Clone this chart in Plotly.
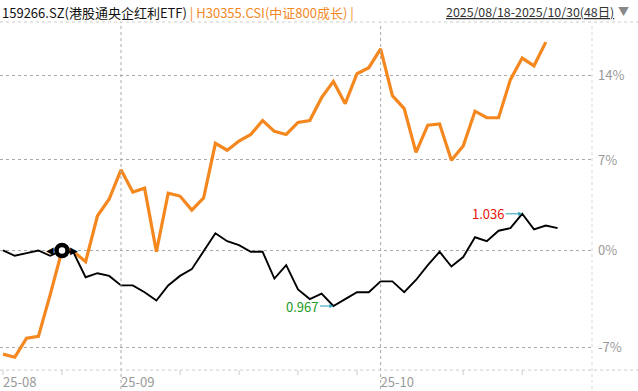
import math
import plotly.graph_objects as go

# ---------------- data ----------------
dates = [
    "2025-08-18", "2025-08-19", "2025-08-20", "2025-08-21", "2025-08-22",
    "2025-08-25", "2025-08-26", "2025-08-27", "2025-08-28", "2025-08-29",
    "2025-09-01", "2025-09-02", "2025-09-03", "2025-09-04", "2025-09-05",
    "2025-09-08", "2025-09-09", "2025-09-10", "2025-09-11", "2025-09-12",
    "2025-09-15", "2025-09-16", "2025-09-17", "2025-09-18", "2025-09-19",
    "2025-09-22", "2025-09-23", "2025-09-24", "2025-09-25", "2025-09-26",
    "2025-09-29", "2025-09-30",
    "2025-10-09", "2025-10-10", "2025-10-13", "2025-10-14", "2025-10-15",
    "2025-10-16", "2025-10-17", "2025-10-20", "2025-10-21", "2025-10-22",
    "2025-10-23", "2025-10-24", "2025-10-27", "2025-10-28", "2025-10-29",
    "2025-10-30",
]

# 159266.SZ closing prices
etf_price = [
    1.008, 1.004, 1.006, 1.008, 1.004, 1.008, 1.006, 0.988, 0.991, 0.989,
    0.982, 0.982, 0.977, 0.971, 0.982, 0.989, 0.994, 1.007, 1.021, 1.015,
    1.012, 1.007, 1.007, 0.987, 0.997, 0.979, 0.972, 0.976, 0.967, 0.972,
    0.977, 0.977, 0.985, 0.985, 0.977, 0.986, 0.997, 1.007, 0.996, 1.003,
    1.018, 1.015, 1.023, 1.025, 1.036, 1.024, 1.027, 1.025,
]

# H30355.CSI change (%) relative to the base date
h30355_pct = [
    -7.46, -7.67, -6.35, -6.22, -3.25, 0.00, -0.10, -0.84, 2.61, 3.92,
    6.21, 4.46, 4.77, -0.10, 4.38, 4.15, 3.07, 4.00, 8.34, 7.78,
    8.52, 9.06, 10.20, 9.31, 9.06, 10.04, 10.20, 12.10, 13.47, 11.60,
    14.12, 14.64, 16.27, 12.27, 11.19, 7.61, 9.82, 9.92, 6.98, 8.12,
    10.97, 10.43, 10.43, 13.62, 15.47, 14.80, 16.85,
]

base_date = "2025-08-25"
month_dates = ["2025-08-18", "2025-09-01", "2025-10-09"]
month_labels = ["25-08", "25-09", "25-10"]
week_dates = ["2025-08-18", "2025-08-25", "2025-09-08", "2025-09-15", "2025-09-22",
              "2025-09-29", "2025-10-20", "2025-10-27"]
y_tick_pct = [14, 7, 0, -7]
y_tick_text = ["14%", "7%", "0%", "-7%"]

etf_name = "159266.SZ(港股通央企红利ETF)"
idx_name = "H30355.CSI(中证800成长)"
range_text = "2025/08/18-2025/10/30(48日)"

# ---------------- derived ----------------
n = len(dates)
xi = list(range(n))
b = dates.index(base_date)
etf_ratio = [p / etf_price[b] for p in etf_price]
idx_ratio = [1 + v / 100 for v in h30355_pct]
xi_idx = list(range(len(h30355_pct)))

imax = max(range(n), key=lambda i: etf_price[i])
imin = min(range(n), key=lambda i: etf_price[i])

ORANGE = "#F5871F"
FONT = "Noto Sans CJK SC"

fig = go.Figure()
fig.add_trace(go.Scatter(x=xi_idx, y=idx_ratio, mode="lines",
                         line=dict(color=ORANGE, width=3.2), hoverinfo="skip"))
fig.add_trace(go.Scatter(x=xi, y=etf_ratio, mode="lines",
                         line=dict(color="#000000", width=1.9), hoverinfo="skip"))
fig.add_trace(go.Scatter(x=[b], y=[etf_ratio[b]], mode="markers",
                         marker=dict(symbol="circle", size=11, color="white",
                                     line=dict(color="black", width=4.5)),
                         hoverinfo="skip"))

# paper geometry: plot area spans 22..391 px vertically (369 px)
H = 369.0
def py(px):
    return (391 - px) / H

def ly(v):  # annotation position on the log axis
    return math.log10(v)

shapes = []
for d in month_dates[1:]:
    shapes.append(dict(type="line", xref="x", yref="paper", x0=dates.index(d), x1=dates.index(d),
                       y0=0, y1=1.0, line=dict(color="#aaaaaa", width=1, dash="dot")))
for d in week_dates:
    shapes.append(dict(type="line", xref="x", yref="paper", x0=dates.index(d), x1=dates.index(d),
                       y0=py(377), y1=py(372), line=dict(color="#cccccc", width=1)))
shapes.append(dict(type="line", xref="paper", yref="paper", x0=1, x1=1, y0=0, y1=1.0,
                   line=dict(color="#d5d5d5", width=1, dash="dot")))
shapes.append(dict(type="line", xref="paper", yref="paper", x0=0, x1=638 / 592, y0=1, y1=1,
                   line=dict(color="#cccccc", width=1, dash="dot")))
shapes.append(dict(type="line", xref="paper", yref="paper", x0=0, x1=638 / 592, y0=py(372), y1=py(372),
                   line=dict(color="#cccccc", width=1, dash="dot")))

annotations = [
    dict(xref="paper", yref="paper", x=0, y=py(12), xanchor="left", yanchor="middle",
         showarrow=False, font=dict(family=FONT, size=13, color="#111111"),
         text=etf_name + " <span style='color:%s'>| %s |</span>" % (ORANGE, idx_name)),
    dict(xref="paper", yref="paper", x=444 / 592, y=py(12), xanchor="left", yanchor="middle",
         showarrow=False, font=dict(family=FONT, size=12.4, color="#333333"),
         text="<span style='text-decoration:underline'>%s</span>" % range_text),
    dict(xref="paper", yref="paper", x=624 / 592, y=py(11), xanchor="center", yanchor="middle",
         showarrow=False, font=dict(family=FONT, size=11, color="#888888"), text="▼"),
    dict(x=imax, y=ly(etf_ratio[imax]), ax=-34, ay=0, showarrow=True, arrowhead=2,
         arrowsize=0.8, arrowwidth=1, arrowcolor="#2a9bb5", text="%.3f" % etf_price[imax],
         font=dict(family=FONT, size=13, color="#e8150c")),
    dict(x=imin, y=ly(etf_ratio[imin]), ax=-31, ay=0, showarrow=True, arrowhead=2,
         arrowsize=0.8, arrowwidth=1, arrowcolor="#2a9bb5", text="%.3f" % etf_price[imin],
         font=dict(family=FONT, size=13, color="#1e9a1e")),
    dict(x=b, y=ly(etf_ratio[b]), xshift=-12, showarrow=False, text="◀",
         font=dict(family="DejaVu Sans", size=10, color="black")),
    dict(x=b, y=ly(etf_ratio[b]), xshift=12, showarrow=False, text="▶",
         font=dict(family="DejaVu Sans", size=10, color="black")),
]

fig.update_layout(
    width=638, height=391,
    margin=dict(l=0, r=46, t=22, b=0),
    paper_bgcolor="white", plot_bgcolor="white",
    showlegend=False,
    shapes=shapes, annotations=annotations,
    xaxis=dict(range=[-3 / 11.8, 589 / 11.8], tickvals=[dates.index(d) for d in month_dates],
               ticktext=month_labels, ticklabelposition="inside right", ticklabelstandoff=-7,
               showgrid=False, zeroline=False, showline=False, ticks="",
               tickfont=dict(family=FONT, size=13, color="#999999"), fixedrange=True),
    yaxis=dict(type="log", side="right", range=[-0.04498, 0.07417],
               tickvals=[1 + v / 100 for v in y_tick_pct], ticktext=y_tick_text,
               showgrid=True, gridcolor="#aaaaaa", griddash="dot", gridwidth=1,
               zeroline=False, showline=False, ticks="", ticklabelstandoff=5,
               tickfont=dict(family=FONT, size=13, color="#999999"), fixedrange=True),
)

fig.write_html("out.html")
